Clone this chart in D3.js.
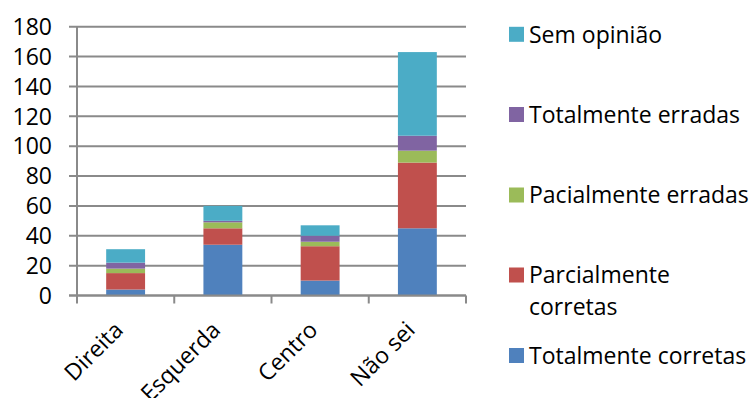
<!DOCTYPE html>
<html>
<head>
<meta charset="utf-8">
<script src="https://cdn.jsdelivr.net/npm/d3@7"></script>
<style>
  html, body { margin: 0; padding: 0; background: #fff; }
  svg { display: block; font-family: "Open Sans", sans-serif; }
</style>
</head>
<body>
<svg id="chart" width="752" height="398"></svg>
<script>
const categories = ["Direita", "Esquerda", "Centro", "Não sei"];
const seriesNames = ["Totalmente corretas", "Parcialmente corretas", "Pacialmente erradas", "Totalmente erradas", "Sem opinião"];
const totalmenteCorretas   = [4, 34, 10, 45];
const parcialmenteCorretas = [11, 11, 23, 44];
const pacialmenteErradas   = [3, 4, 3, 8];
const totalmenteErradas    = [4, 1, 4, 10];
const semOpiniao           = [9, 10, 7, 56];
const yTicks = [0, 20, 40, 60, 80, 100, 120, 140, 160, 180];
const colors = ["#4F81BD", "#C0504D", "#9BBB59", "#8064A2", "#4BACC6"];

const seriesValues = [totalmenteCorretas, parcialmenteCorretas, pacialmenteErradas, totalmenteErradas, semOpiniao];
const table = categories.map((c, i) => {
  const row = { cat: c };
  seriesNames.forEach((s, j) => row[s] = seriesValues[j][i]);
  return row;
});

const svg = d3.select("#chart");
const pLeft = 77, pRight = 466, pTop = 26.7, pBottom = 295.5;

const x = d3.scaleBand().domain(categories).range([pLeft, pRight]).paddingInner(0.6).paddingOuter(0.3);
const xTick = d3.scaleBand().domain(categories).range([pLeft, pRight]);
const y = d3.scaleLinear().domain([0, 180]).range([pBottom, pTop]);

const gridColor = "#8a8a8a";
const fs = 23;

// gridlines
svg.append("g").selectAll("line").data(yTicks).join("line")
  .attr("x1", pLeft - 8).attr("x2", pRight)
  .attr("y1", d => y(d)).attr("y2", d => y(d))
  .attr("stroke", gridColor).attr("stroke-width", 2);

// y axis line
svg.append("line").attr("x1", pLeft).attr("x2", pLeft)
  .attr("y1", pTop).attr("y2", pBottom + 8)
  .attr("stroke", gridColor).attr("stroke-width", 2);

// x tick marks
const tickXs = categories.map(c => xTick(c)).concat([pRight]);
svg.append("g").selectAll("line").data(tickXs.slice(1)).join("line")
  .attr("x1", d => d).attr("x2", d => d)
  .attr("y1", pBottom).attr("y2", pBottom + 8)
  .attr("stroke", gridColor).attr("stroke-width", 2);

// bars
const stacked = d3.stack().keys(seriesNames)(table);
svg.append("g").selectAll("g").data(stacked).join("g")
  .attr("fill", (d, i) => colors[i])
  .selectAll("rect").data(d => d).join("rect")
  .attr("x", d => x(d.data.cat))
  .attr("width", x.bandwidth())
  .attr("y", d => y(d[1]))
  .attr("height", d => y(d[0]) - y(d[1]));

// baseline above bars
svg.append("line").attr("x1", pLeft - 8).attr("x2", pRight)
  .attr("y1", pBottom).attr("y2", pBottom)
  .attr("stroke", gridColor).attr("stroke-width", 2);

// y labels
svg.append("g").selectAll("text").data(yTicks).join("text")
  .attr("x", 52).attr("y", d => y(d))
  .attr("dy", "0.36em")
  .attr("text-anchor", "end")
  .attr("font-size", fs)
  .attr("fill", "#000")
  .text(d => d);

// x labels
svg.append("g").selectAll("text").data(categories).join("text")
  .attr("text-anchor", "end")
  .attr("font-size", fs)
  .attr("fill", "#000")
  .attr("transform", c => `translate(${x(c) + x.bandwidth() / 2 - 1},${pBottom + 36}) rotate(-45)`)
  .text(c => c);

// legend
const legendItems = [
  { color: colors[4], cy: 34.3, lines: ["Sem opinião"] },
  { color: colors[3], cy: 114.5, lines: ["Totalmente erradas"] },
  { color: colors[2], cy: 195, lines: ["Pacialmente erradas"] },
  { color: colors[1], cy: 275, lines: ["Parcialmente", "corretas"] },
  { color: colors[0], cy: 355.5, lines: ["Totalmente corretas"] }
];
const lg = svg.append("g").selectAll("g").data(legendItems).join("g");
lg.append("rect").attr("x", 509).attr("y", d => d.cy - 7.5)
  .attr("width", 15).attr("height", 15).attr("fill", d => d.color);
lg.each(function(d) {
  const g = d3.select(this);
  d.lines.forEach((t, k) => {
    g.append("text").attr("x", 529).attr("y", d.cy + k * 32)
      .attr("dy", "0.36em").attr("font-size", fs).attr("fill", "#000").text(t);
  });
});
</script>
</body>
</html>
